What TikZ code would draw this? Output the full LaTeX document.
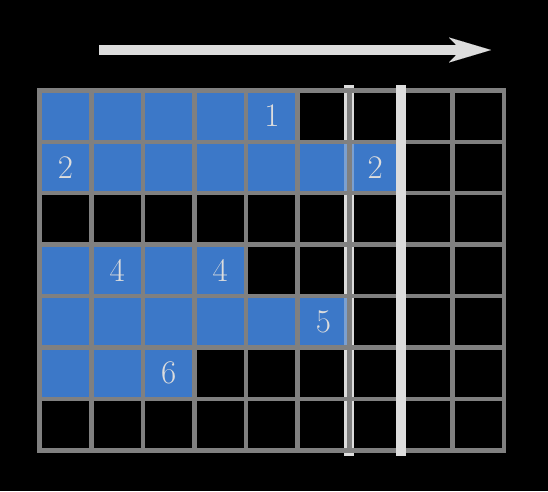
\documentclass[tikz,border=0pt]{standalone}
\usetikzlibrary{arrows.meta}
\definecolor{cellblue}{RGB}{60,120,200}
\definecolor{gridgray}{RGB}{128,128,128}
\definecolor{lightline}{RGB}{221,221,221}
\tikzset{
  cellfill/.style={fill=cellblue},
  gridline/.style={draw=gridgray, line width=4.5pt, line cap=rect},
  lightbar/.style={draw=lightline, line width=10pt},
  numtext/.style={text=lightline, inner sep=0pt, font=\fontsize{33}{40}\selectfont},
  bigarrow/.style={draw=lightline, line width=10pt, -{Stealth[length=42pt,width=25pt,inset=12pt,line width=0.01pt]}}
}
\begin{document}
\begin{tikzpicture}[x=1pt,y=-1pt]
\fill[black] (0,0) rectangle (548,491);
\useasboundingbox (0,0) rectangle (548,491);
\def\gx{39.7}
\def\gy{90.3}
\def\cw{51.6}
\def\ch{51.45}
% sweep line 1 (behind)
\coordinate (aTop) at (349.3,85);
\coordinate (aBot) at (349.3,455.7);
\coordinate (bTop) at (400.9,85);
\coordinate (bBot) at (400.9,455.7);
\draw[lightbar] (aTop) -- (aBot);
% blue cells
\foreach \r/\n in {1/5,2/7,4/4,5/6,6/3}
  \fill[cellfill] (\gx,{\gy+(\r-1)*\ch}) rectangle ({\gx+\n*\cw},{\gy+\r*\ch});
\draw[lightbar, opacity=0.4] (aTop) -- (aBot);
% grid
\foreach \i in {0,...,7}
  \draw[gridline] (\gx,{\gy+\i*\ch}) -- ({\gx+9*\cw},{\gy+\i*\ch});
\foreach \j in {0,...,9}
  \draw[gridline] ({\gx+\j*\cw},\gy) -- ({\gx+\j*\cw},{\gy+7*\ch});
% sweep line 2 (front)
\draw[lightbar] (bTop) -- (bBot);
% numbers
\foreach \c/\r/\t/\nm in {5/1/1/na,1/2/2/nb,7/2/2/nc,2/4/4/nd,4/4/4/ne,6/5/5/nf,3/6/6/ng}
  \node[numtext] (\nm) at ({\gx+(\c-0.5)*\cw},{\gy+(\r-0.5)*\ch}) {\t};
% arrow
\coordinate (arS) at (99,50);
\coordinate (arE) at (491,50);
\draw[bigarrow] (arS) -- (arE);
\end{tikzpicture}
\end{document}
